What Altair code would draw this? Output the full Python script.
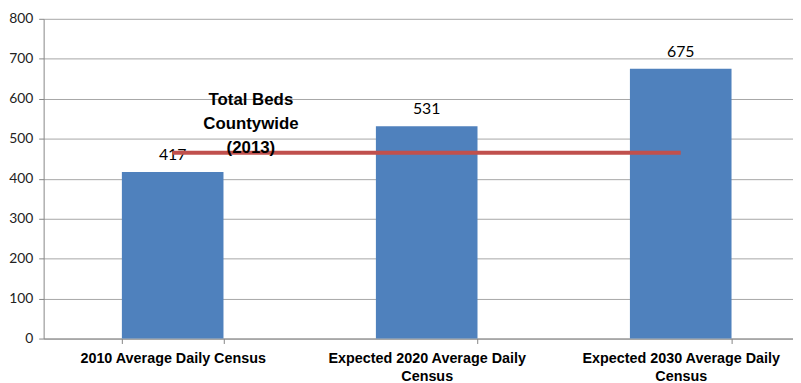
import altair as alt
import pandas as pd

categories = ["2010 Average Daily Census", "Expected 2020 Average Daily Census", "Expected 2030 Average Daily Census"]
values = [417, 531, 675]
total_beds = 465
annotation_lines = ["Total Beds", "Countywide", "(2013)"]

bars_df = pd.DataFrame({"cat": categories, "val": values})
line_df = pd.DataFrame({"cat": [categories[0], categories[2]], "val": [total_beds, total_beds]})
ann_df = pd.DataFrame({"cat": [categories[0]], "val": [596], "txt": [annotation_lines]})

label_expr = ("indexof(datum.label, 'Expected') == 0 ? "
              "[replace(datum.label, ' Census', ''), 'Census'] : datum.label")

x = alt.X("cat:N", sort=categories, title=None,
          scale=alt.Scale(paddingInner=0.6, paddingOuter=0.275, align=0.56),
          axis=alt.Axis(labelAngle=0, labelExpr=label_expr, tickBand="extent",
                        labelFont="Liberation Sans", labelFontWeight="bold", labelFontSize=14.5,
                        labelColor="#000000", labelPadding=8, labelLineHeight=18,
                        domainColor="#868686", tickColor="#868686", tickSize=5,
                        labelLimit=300))
y = alt.Y("val:Q", title=None,
          scale=alt.Scale(domain=[0, 800]),
          axis=alt.Axis(values=list(range(0, 801, 100)), labelFont="Lato", labelFontSize=14,
                        labelColor="#222222", labelPadding=6, gridColor="#A6A6A6",
                        domainColor="#868686", tickColor="#868686", tickSize=5))

bars = alt.Chart(bars_df).mark_bar(color="#4F81BD").encode(x=x, y=y)
labels = alt.Chart(bars_df).mark_text(font="Lato", fontSize=16, dy=-12, baseline="alphabetic",
                                      color="#000000").encode(x=alt.X("cat:N", sort=categories),
                                                              y="val:Q", text="val:Q")
line = alt.Chart(line_df).mark_line(color="#C0504D", strokeWidth=4).encode(
    x=alt.X("cat:N", sort=categories), y="val:Q")
ann = alt.Chart(ann_df).mark_text(font="Liberation Sans", fontWeight="bold", fontSize=17,
                                  lineHeight=24, baseline="middle", dx=79, color="#000000").encode(
    x=alt.X("cat:N", sort=categories), y="val:Q", text="txt")

chart = alt.layer(bars, labels, line, ann).properties(
    width=757, height=323, padding={"top": 2, "left": 0, "right": 0, "bottom": 0}
).configure_view(stroke=None).configure_axis(grid=False).configure_axisY(grid=True)

chart.save("out.html", embed_options={"renderer": "svg", "actions": False})
